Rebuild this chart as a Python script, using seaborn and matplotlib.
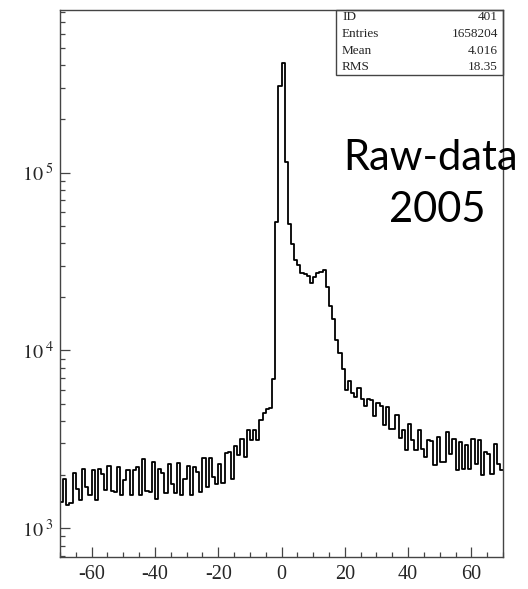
import numpy as np
import pandas as pd
import matplotlib
matplotlib.use("Agg")
import matplotlib.pyplot as plt
import seaborn as sns
from matplotlib.ticker import FixedLocator, MultipleLocator, FuncFormatter, LogLocator
from matplotlib.patches import Rectangle

# ---- data ----
x_min = -70
x_max = 70
n_bins = 140
counts = [
    1400, 1900, 1350, 1380, 2050, 1670, 1450, 2160, 1700, 1530,
    2120, 1450, 2160, 2030, 1650, 2250, 1630, 1600, 2210, 1530,
    1860, 2120, 1530, 2120, 2210, 1530, 2450, 1620,
    1600, 2360, 1470, 2160, 2050, 1570, 2310, 1780, 1570, 2330,
    1530, 1900, 2230, 1530, 2210, 2070, 1600, 2500, 1710, 2500,
    1950, 1780,
    2290, 1800, 2650, 2700, 1900, 2920, 2580, 3190, 2510, 3550,
    3120, 3550, 3120, 4050, 4430, 4700, 4720, 6950,
    52600, 308000, 411000, 114000, 51600, 39800, 32100, 30400, 27200, 26800,
    26300, 23900, 25800, 27200, 27500, 28200, 22700, 17700, 15100, 11400,
    9700, 7900,
    5960, 6730, 5750, 5470, 6170, 5360, 4900, 5360, 5280, 4260,
    5060, 4850, 3790, 4790, 3630, 3630, 4320, 3230, 3550, 2770,
    3840, 3120, 2770,
    3555, 2805, 2513, 3150, 3100, 2258, 3260, 2360, 2360, 3475,
    2630, 3190, 2116, 3060, 2163, 2925, 2163, 3190, 2310, 3120,
    1985, 2685, 2630, 2030, 2990, 2310, 2116,
]
x_ticks = [-60, -40, -20, 0, 20, 40, 60]
stat_names = ["ID", "Entries", "Mean", "RMS"]
stat_values = ["401", "1658204", "4.016", "18.35"]
title_lines = ["Raw-data", "2005"]

# ---- style ----
sns.set_style("ticks")
plt.rcParams["font.family"] = ["Liberation Serif", "DejaVu Serif"]
plt.rcParams["mathtext.fontset"] = "stix"

bin_width = (x_max - x_min) / n_bins
centers = x_min + bin_width * (np.arange(n_bins) + 0.5)
df = pd.DataFrame({"x": centers, "w": counts})

fig = plt.figure(figsize=(5.28, 5.89), dpi=100)
ax = fig.add_axes([60 / 528, 32 / 589, 443 / 528, 547 / 589])

sns.histplot(data=df, x="x", weights="w", binwidth=bin_width,
             binrange=(x_min, x_max), element="step",
             fill=False, color="black", linewidth=1.3, ax=ax)
ax.set_yscale("log")
ax.set_xlim(x_min, x_max)
ax.set_ylim(690, 8.2e5)
ax.set_xlabel("")
ax.set_ylabel("")

frame_col = "#444444"
for s in ax.spines.values():
    s.set_visible(True)
    s.set_color(frame_col)
    s.set_linewidth(1.0)

ax.xaxis.set_major_locator(FixedLocator(x_ticks))
ax.xaxis.set_minor_locator(MultipleLocator(5))
ax.yaxis.set_major_locator(LogLocator(base=10))
ax.yaxis.set_minor_locator(LogLocator(base=10, subs=np.arange(2, 10)))
ax.yaxis.set_major_formatter(FuncFormatter(lambda v, p: r"$10^{\,\,%d}$" % int(round(np.log10(v)))))
ax.yaxis.set_minor_formatter(FuncFormatter(lambda v, p: ""))
ax.xaxis.set_major_formatter(FuncFormatter(lambda v, p: "%d" % v))

ax.tick_params(axis="both", which="major", direction="in", length=7, width=0.9,
               color=frame_col, labelsize=14.5, top=False, right=False)
ax.tick_params(axis="both", which="minor", direction="in", length=3.5, width=0.9,
               color=frame_col, top=False, right=False)
ax.tick_params(axis="x", which="major", pad=6)
ax.tick_params(axis="y", which="major", pad=4)

# stats box
x0 = (336 - 60) / 443
y0 = (557 - 75) / 547
ax.add_patch(Rectangle((x0, y0), 1 - x0, 1 - y0, transform=ax.transAxes,
                       fill=False, edgecolor=frame_col, linewidth=1.0, clip_on=False))
row_px = [17, 34, 51, 67]
for name, val, ypx in zip(stat_names, stat_values, row_px):
    ya = (557 - ypx) / 547
    ax.text((342 - 60) / 443, ya, name, transform=ax.transAxes, ha="left",
            va="center", fontsize=9.5)
    ax.text((498 - 60) / 443, ya, val, transform=ax.transAxes, ha="right",
            va="center", fontsize=9.5)

# big annotation
fig.text(343 / 528, 1 - 158 / 589, title_lines[0], fontfamily="Lato",
         fontsize=30, ha="left", va="center", color="black")
fig.text(437 / 528, 1 - 210 / 589, title_lines[1], fontfamily="Lato",
         fontsize=30, ha="center", va="center", color="black")

fig.savefig("out.png", dpi=100, facecolor="white")
